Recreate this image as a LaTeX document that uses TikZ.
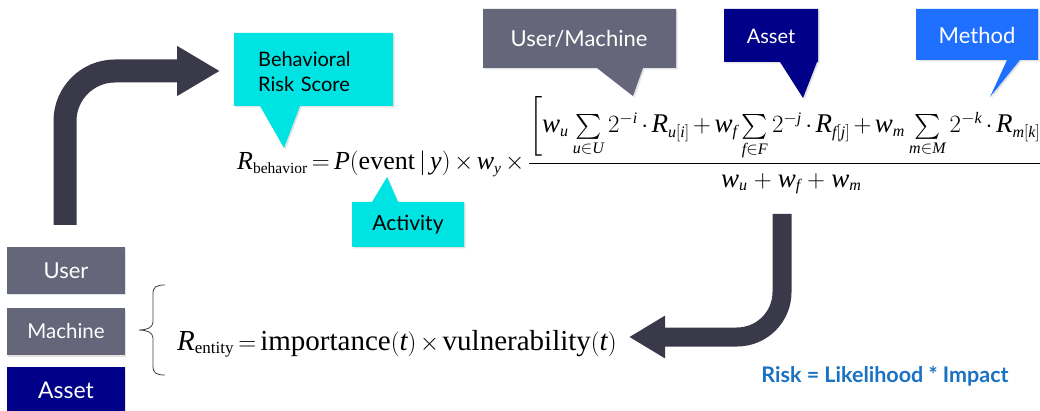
\documentclass[tikz,border=0pt]{standalone}
\usepackage{amsmath}
\usepackage{fontspec}
\setmainfont{Liberation Serif}
\newfontfamily\callfont{Lato}
\usetikzlibrary{arrows.meta,shadows}

\DeclareMathSizes{26}{26}{15.5}{12}
\DeclareMathSizes{27}{27}{16}{12}
\DeclareMathSizes{29}{29}{17}{13}

\definecolor{calloutcyan}{HTML}{00E3E3}
\definecolor{slategray}{HTML}{66667A}
\definecolor{assetnavy}{HTML}{000088}
\definecolor{methodblue}{HTML}{1F70FF}
\definecolor{arrowdark}{HTML}{3A3949}
\definecolor{riskblue}{HTML}{1A72C2}

\newcommand{\itv}[1]{\mathit{#1}}
\newcommand{\fracpart}[1]{\mbox{\fontsize{27}{32}\selectfont$#1$}}

\tikzset{
  callout/.style={drop shadow={opacity=0.22,shadow xshift=1.5pt,shadow yshift=-1.5pt}},
  calltext/.style={inner sep=0pt,font=\callfont\fontsize{21}{25}\selectfont},
  sidebox/.style={minimum width=118pt,minimum height=46pt,inner sep=0pt,text=white,
    font=\callfont\fontsize{22}{26}\selectfont,
    drop shadow={opacity=0.22,shadow xshift=1pt,shadow yshift=-1.5pt}},
  bigarrow/.style={draw=arrowdark,line cap=butt},
  formula/.style={inner sep=0pt,anchor=base west,
    execute at begin node={\medmuskip=2.5mu\thickmuskip=3mu}}
}

\begin{document}
\begin{tikzpicture}[x=1pt,y=-1pt]
  \fill[white] (0,0) rectangle (1040,411);
  \useasboundingbox (0,0) rectangle (1040,411);

  % left hand entity boxes
  \node[sidebox,fill=slategray] (user) at (66,270.5) {User};
  \node[sidebox,fill=slategray,minimum height=47pt,font=\callfont\fontsize{20.5}{24}\selectfont] (machine) at (66,331.5) {Machine};
  \node[sidebox,fill=assetnavy,font=\callfont\fontsize{23}{27}\selectfont] (asset) at (66,390) {Asset};

  % brace
  \draw[line width=0.8pt,color=black!75] (165,285) .. controls (156,285) and (153,287) .. (153,294)
    -- (153,322) .. controls (153,328) and (146,330) .. (139,330)
    .. controls (146,330) and (153,332) .. (153,338)
    -- (153,366) .. controls (153,373) and (156,375) .. (165,375);

  % callouts
  \fill[calloutcyan,callout] (234,33) -- (393,33) -- (393,106) -- (300,106) -- (284,148)
    -- (260,106) -- (234,106) -- cycle;
  \node[calltext,text width=120pt,align=left,anchor=north west,
        font=\callfont\fontsize{20}{25}\selectfont] (beh) at (258,51.5) {Behavioral\\Risk Score};

  \fill[calloutcyan,callout] (352,202) -- (372,202) -- (387,177) -- (398,202) -- (464,202)
    -- (464,247) -- (352,247) -- cycle;
  \node[calltext] (act) at (408,225) {Activity};

  \fill[slategray,callout] (483,9) -- (676,9) -- (676,68) -- (643,68) -- (633,96)
    -- (597,68) -- (483,68) -- cycle;
  \node[calltext,text=white,font=\callfont\fontsize{22}{26}\selectfont] (um) at (579,39) {User/Machine};

  \fill[assetnavy,callout] (724,9) -- (818,9) -- (818,62) -- (817,62) -- (803,98)
    -- (780,62) -- (724,62) -- cycle;
  \node[calltext,text=white,font=\callfont\fontsize{20}{24}\selectfont] (ast) at (771,36) {Asset};

  \fill[methodblue,callout] (916,9) -- (1038,9) -- (1038,60) -- (1020,60) -- (990,97)
    -- (1007,60) -- (916,60) -- cycle;
  \node[calltext,text=white,font=\callfont\fontsize{22}{26}\selectfont] (meth) at (977,35) {Method};

  % formulas
  \node[formula,font=\fontsize{26}{30}\selectfont] (behf) at (237,170)
    {$\itv{R}_{\mathrm{behavior}} = \itv{P}(\mathrm{event}\,|\,\itv{y})\times \itv{w}_{\itv{y}}\times
     \dfrac{\fracpart{\biggl[ \itv{w_u}\sum\limits_{\itv{u}\in \itv{U}}2^{-\itv{i}}\cdot \itv{R_{u[i]}}
      + \itv{w_f}\sum\limits_{\itv{f}\in \itv{F}}2^{-\itv{j}}\cdot \itv{R_{f[j]}}
      + \itv{w_m}\sum\limits_{\itv{m}\in \itv{M}}2^{-\itv{k}}\cdot \itv{R_{m[k]}}\biggr]}}
      {\fracpart{\medmuskip=4.5mu \itv{w_u}+\itv{w_f}+\itv{w_m}}}$};

  \node[formula,font=\fontsize{29}{34}\selectfont] (entf) at (177,350)
    {$\itv{R}_{\mathrm{entity}} = \mathrm{importance}(\itv{t})\times\mathrm{vulnerability}(\itv{t})$};

  % bent arrows
  \coordinate (upstart) at (65,225);
  \coordinate (upend) at (220,71);
  \draw[bigarrow,line width=23pt,rounded corners=50pt,-{Triangle[length=43pt,width=47pt]}]
    (upstart) |- (upend);

  \coordinate (downstart) at (782,214);
  \coordinate (downend) at (629,337);
  \draw[bigarrow,line width=19pt,rounded corners=45pt,-{Triangle[length=36pt,width=40pt]}]
    (downstart) |- (downend);

  \node[inner sep=0pt,text=riskblue,font=\callfont\bfseries\fontsize{21.5}{25}\selectfont] (risk) at (885,376)
    {Risk = Likelihood * Impact};
\end{tikzpicture}
\end{document}
